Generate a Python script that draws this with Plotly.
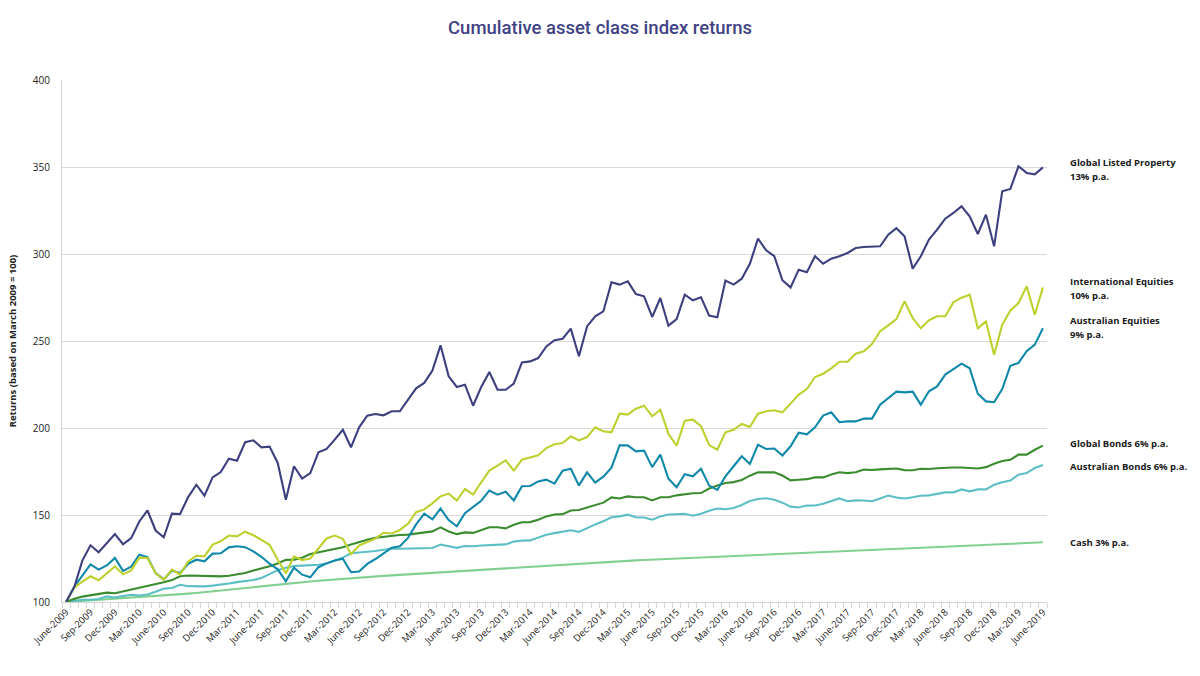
import plotly.graph_objects as go

# ---------------- data (month index 0 = June-2009 ... 120 = June-2019) ----------------
tick_labels = [
    "June-2009", "Sep-2009", "Dec-2009", "Mar-2010", "June-2010", "Sep-2010", "Dec-2010",
    "Mar-2011", "June-2011", "Sep-2011", "Dec-2011", "Mar-2012", "June-2012", "Sep-2012",
    "Dec-2012", "Mar-2013", "June-2013", "Sep-2013", "Dec-2013", "Mar-2014", "June-2014",
    "Sep-2014", "Dec-2014", "Mar-2015", "June-2015", "Sep-2015", "Dec-2015", "Mar-2016",
    "June-2016", "Sep-2016", "Dec-2016", "Mar-2017", "June-2017", "Sep-2017", "Dec-2017",
    "Mar-2018", "June-2018", "Sep-2018", "Dec-2018", "Mar-2019", "June-2019",
]

global_listed_property = [
    100, 108.5, 123.8, 132.6, 128.6, 133.9, 139.0, 133.2, 136.7, 146.3, 152.6, 141.1, 137.2,
    150.8, 150.5, 160.3, 167.4, 161.1, 171.6, 174.7, 182.4, 181.2, 191.8, 192.9, 188.9, 189.3,
    179.9, 158.8, 178.0, 170.9, 174.1, 186.0, 188.0, 193.3, 199.0, 188.9, 200.4, 207.1, 208.0,
    207.3, 209.6, 209.6, 216.3, 222.8, 225.9, 233.0, 247.5, 229.7, 223.6, 224.9, 212.8, 223.6,
    232.2, 222.0, 222.0, 225.5, 237.7, 238.3, 240.2, 246.9, 250.5, 251.3, 257.1, 241.2, 258.4,
    264.2, 267.0, 283.7, 282.4, 284.3, 277.0, 275.7, 263.8, 274.7, 258.8, 262.6, 276.6, 273.4,
    275.1, 264.6, 263.6, 284.7, 282.4, 285.8, 294.4, 308.8, 302.1, 298.7, 284.9, 280.8, 291.0,
    289.5, 298.7, 294.4, 297.3, 298.7, 300.6, 303.4, 304.0, 304.0, 304.4, 311.1, 314.8, 310.2,
    291.6, 298.7, 308.3, 314.0, 320.3, 323.6, 327.4, 321.6, 311.5, 322.6, 304.4, 336.0, 337.4,
    350.4, 346.6, 345.8, 349.8,
]

international_equities = [
    100, 108.3, 111.7, 114.8, 112.5, 116.5, 120.5, 115.9, 118.2, 125.5, 125.3, 116.5, 112.8,
    118.6, 115.8, 123.3, 126.6, 126.2, 133.0, 134.9, 138.2, 137.7, 140.4, 138.4, 135.8, 132.9,
    124.3, 116.5, 126.2, 124.1, 125.0, 131.0, 136.5, 138.2, 136.3, 127.5, 132.5, 134.5, 136.5,
    139.8, 139.4, 141.4, 144.9, 151.6, 153.2, 156.7, 160.7, 162.3, 158.3, 165.0, 161.7, 168.8,
    175.5, 178.4, 181.4, 175.5, 181.8, 183.1, 184.3, 188.5, 190.7, 191.4, 195.2, 192.9, 194.8,
    200.4, 198.1, 197.5, 208.2, 207.7, 211.1, 212.8, 206.7, 210.5, 196.6, 189.8, 204.2, 204.8,
    201.0, 190.2, 187.5, 197.5, 199.0, 202.3, 200.6, 208.2, 209.6, 210.2, 209.0, 214.0, 219.2,
    222.4, 229.3, 231.2, 234.3, 238.1, 238.1, 242.7, 244.1, 248.3, 255.6, 259.0, 262.6, 272.8,
    263.2, 257.3, 261.9, 264.2, 264.2, 272.2, 274.9, 276.6, 257.3, 261.3, 242.1, 259.4, 267.6,
    271.8, 281.4, 265.1, 280.8,
]

australian_equities = [
    100, 108.8, 115.2, 121.6, 118.6, 121.0, 125.3, 117.9, 120.3, 127.2, 125.8, 116.6, 113.0,
    118.1, 116.5, 122.0, 124.3, 123.4, 127.8, 128.0, 131.4, 132.0, 131.5, 129.1, 126.0, 122.0,
    118.8, 111.9, 119.7, 115.7, 114.2, 120.0, 122.2, 123.8, 124.9, 117.1, 117.5, 121.9, 124.7,
    127.7, 131.2, 132.0, 136.8, 144.6, 150.8, 147.5, 153.7, 147.1, 143.5, 151.0, 154.8, 158.2,
    164.1, 161.7, 163.4, 158.4, 166.5, 166.7, 169.3, 170.3, 168.0, 175.5, 176.6, 167.0, 174.5,
    168.6, 172.0, 177.2, 190.0, 190.0, 186.6, 187.0, 177.5, 184.7, 170.8, 165.9, 173.4, 172.2,
    176.6, 166.9, 164.4, 172.2, 178.0, 183.7, 179.3, 190.4, 187.9, 188.2, 184.2, 189.5, 197.3,
    196.4, 200.4, 207.1, 209.0, 203.3, 203.8, 203.8, 205.4, 205.4, 213.4, 217.2, 220.9, 220.5,
    220.9, 213.4, 221.1, 223.9, 230.7, 233.9, 237.0, 234.3, 219.7, 215.3, 214.8, 222.4, 235.8,
    237.4, 244.1, 247.9, 257.3,
]

global_bonds = [
    100, 101.8, 103.1, 103.9, 104.5, 105.4, 105.0, 106.0, 107.2, 108.0, 108.9, 110.0, 111.3,
    112.6, 114.8, 115.2, 115.1, 114.7, 114.6, 114.7, 115.1, 115.7, 116.7, 118.1, 119.2, 120.5,
    122.1, 124.2, 124.3, 125.4, 127.6, 128.5, 129.3, 130.2, 131.5, 133.0, 134.5, 135.8, 136.9,
    137.5, 138.1, 138.5, 138.7, 139.3, 140.1, 140.6, 142.9, 140.5, 139.0, 140.0, 139.7, 141.4,
    143.0, 143.0, 142.3, 144.4, 145.8, 145.9, 147.3, 149.2, 150.3, 150.5, 152.6, 152.9, 154.3,
    156.0, 157.1, 160.1, 159.5, 160.7, 160.2, 160.2, 158.4, 160.2, 160.2, 161.3, 162.1, 162.5,
    162.6, 165.2, 167.0, 168.4, 168.9, 170.1, 172.6, 174.5, 174.5, 174.5, 172.7, 169.9, 170.3,
    170.6, 171.6, 171.6, 173.3, 174.6, 174.1, 174.6, 176.1, 175.9, 176.2, 176.6, 176.7, 175.8,
    175.7, 176.6, 176.4, 176.9, 177.3, 177.3, 177.3, 176.8, 176.7, 177.5, 179.5, 181.0, 181.8,
    184.7, 184.7, 187.5, 189.9,
]

australian_bonds = [
    100, 100.8, 101.3, 101.3, 101.7, 103.2, 102.6, 103.4, 104.2, 103.7, 104.3, 105.9, 107.7,
    108.0, 109.9, 109.1, 109.0, 109.0, 109.4, 109.8, 110.6, 111.4, 111.8, 112.6, 113.8, 115.9,
    118.3, 119.7, 120.7, 120.9, 121.1, 121.4, 122.1, 123.8, 125.5, 128.0, 128.3, 128.9, 129.3,
    130.0, 130.6, 130.6, 130.7, 130.6, 130.8, 131.0, 133.0, 132.2, 131.1, 132.2, 132.0, 132.5,
    132.6, 132.7, 133.1, 134.7, 135.3, 135.4, 137.1, 138.7, 139.6, 140.3, 141.2, 140.3, 142.5,
    144.6, 146.4, 148.7, 149.2, 150.2, 148.7, 148.6, 147.3, 149.2, 150.3, 150.3, 150.7, 149.6,
    150.7, 152.5, 153.7, 153.3, 154.0, 155.8, 158.0, 159.2, 159.6, 158.8, 157.1, 154.8, 154.3,
    155.4, 155.5, 156.5, 157.9, 159.5, 157.9, 158.4, 158.3, 157.9, 159.5, 161.2, 160.1, 159.5,
    160.2, 161.1, 161.3, 162.1, 163.0, 163.0, 164.7, 163.6, 164.7, 164.7, 167.4, 168.8, 169.8,
    173.2, 174.1, 177.0, 178.7,
]

cash = [
    100.0, 100.3, 100.5, 100.8, 101.1, 101.4, 101.7, 102.0, 102.3, 102.6, 102.9, 103.3, 103.6,
    104.0, 104.4, 104.8, 105.2, 105.7, 106.1, 106.6, 107.0, 107.5, 107.9, 108.4, 108.9,
    109.4, 109.9, 110.4, 110.8, 111.3, 111.8,
    112.2, 112.6, 113.0, 113.3, 113.7, 114.0, 114.4, 114.7, 115.0, 115.3, 115.6, 115.9, 116.2, 116.5,
    116.8, 117.1, 117.4, 117.7, 118.0, 118.3, 118.6, 118.9, 119.2, 119.5, 119.8, 120.1, 120.4,
    120.7, 121.0, 121.2,
    121.5, 121.8, 122.0, 122.3, 122.6, 122.8, 123.1, 123.4, 123.6, 123.9, 124.1, 124.3,
    124.6, 124.8, 125.0, 125.3, 125.5, 125.7, 125.9, 126.2, 126.4, 126.6, 126.8, 127.0, 127.2,
    127.4, 127.6, 127.8, 128.0, 128.2,
    128.4, 128.6, 128.8, 129.0, 129.2, 129.4, 129.6, 129.8, 130.0, 130.2, 130.4, 130.6, 130.8,
    131.0, 131.2, 131.4, 131.6, 131.8, 132.0, 132.2, 132.4, 132.6, 132.8, 133.0, 133.2, 133.4,
    133.6, 133.8, 134.0, 134.3,
]

series_names = [
    "Cash", "Australian Bonds", "Global Bonds", "Australian Equities",
    "International Equities", "Global Listed Property",
]
series_values = [cash, australian_bonds, global_bonds, australian_equities,
                 international_equities, global_listed_property]
series_labels = [
    ["Cash 3% p.a."], ["Australian Bonds 6% p.a."], ["Global Bonds 6% p.a."],
    ["Australian Equities", "9% p.a."], ["International Equities", "10% p.a."],
    ["Global Listed Property", "13% p.a."],
]
label_values = [134.1, 177.8, 191.0, 261.7, 284.1, 352.5]  # y of first label line

# ---------------- styling ----------------
colors = ["#82d090", "#5cbfc6", "#3b8b2f", "#0f88a9", "#bdd02e", "#3d407f"]

n = len(global_listed_property)
x = list(range(n))

fig = go.Figure()
for name, vals, col in zip(series_names, series_values, colors):
    fig.add_trace(go.Scatter(
        x=x[:len(vals)], y=vals, mode="lines", name=name,
        line=dict(color=col, width=2.1), hoverinfo="skip",
    ))

for lines, yv in zip(series_labels, label_values):
    for k, txt in enumerate(lines):
        fig.add_annotation(
            x=1.0212, xref="paper", y=yv, yref="y", yshift=-14 * k,
            text="<b>" + txt + "</b>",
            showarrow=False, xanchor="left", yanchor="middle", align="left",
            font=dict(family="Open Sans", size=9.5, color="#1a1a1a"),
        )

fig.update_layout(
    width=1200, height=676,
    paper_bgcolor="white", plot_bgcolor="white",
    margin=dict(l=57, r=153, t=80, b=74),
    showlegend=False,
    title=dict(
        text="Cumulative asset class index returns",
        x=0.5, xref="container", xanchor="center",
        y=1 - 28 / 676, yref="container", yanchor="middle",
        font=dict(family="Roboto", size=18.5, color="#3f4283", weight=500),
    ),
    font=dict(family="Open Sans", color="#222222"),
    hovermode=False,
)

fig.update_xaxes(
    range=[-0.5, n - 0.5],
    tickmode="array", tickvals=list(range(0, n, 3)), ticktext=tick_labels,
    tickangle=-45, tickfont=dict(family="Open Sans", size=9.5, color="#222222"),
    ticks="", showgrid=False, zeroline=False,
    showline=True, linecolor="#d4d4d4", linewidth=1,
    minor=dict(ticks="outside", dtick=1, tick0=-0.5, ticklen=5,
               tickcolor="#d4d4d4", tickwidth=1, showgrid=False),
)

fig.update_yaxes(
    range=[100, 400], tickmode="linear", tick0=100, dtick=50,
    tickfont=dict(family="Open Sans", size=10, color="#222222"),
    showgrid=True, gridcolor="#d9d9d9", gridwidth=1,
    zeroline=False, showline=True, linecolor="#d4d4d4", linewidth=1,
    ticks="outside", ticklen=9, tickcolor="rgba(0,0,0,0)",
    title=dict(text="<b>Returns (based on March 2009 = 100)</b>",
               font=dict(family="Open Sans", size=9.5, color="#222222"), standoff=14),
)

fig.write_html("out.html")
